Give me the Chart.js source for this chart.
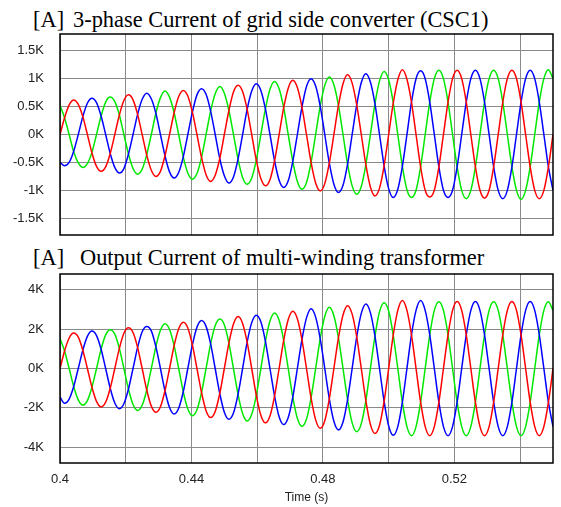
<!DOCTYPE html>
<html>
<head>
<meta charset="utf-8">
<script src="https://cdn.jsdelivr.net/npm/chart.js@4"></script>
<style>
  body { margin: 0; background: #fff; width: 561px; height: 507px; position: relative; overflow: hidden; }
  .lbl { position: absolute; font-family: "Liberation Serif", "Times New Roman", serif; font-size: 22.4px; line-height: 22px; color: #000; white-space: nowrap; }
  canvas { position: absolute; left: 0; }
</style>
</head>
<body>
<div class="lbl" style="left:33px;top:9px">[A]</div>
<div class="lbl" style="left:73px;top:9px">3-phase Current of grid side converter (CSC1)</div>
<canvas id="gridChart" width="561" height="209" style="top:30px"></canvas>
<div class="lbl" style="left:33px;top:247px">[A]</div>
<div class="lbl" style="left:80px;top:247px">Output Current of multi-winding transformer</div>
<canvas id="trafoChart" width="561" height="237" style="top:270px"></canvas>

<script>
// time samples (s), every 30 deg of a 60 Hz cycle
const time = [
  0.4, 0.40139, 0.40278, 0.40417, 0.40556, 0.40694, 0.40833, 0.40972, 0.41111, 0.4125, 0.41389, 0.41528,
  0.41667, 0.41806, 0.41944, 0.42083, 0.42222, 0.42361, 0.425, 0.42639, 0.42778, 0.42917, 0.43056, 0.43194,
  0.43333, 0.43472, 0.43611, 0.4375, 0.43889, 0.44028, 0.44167, 0.44306, 0.44444, 0.44583, 0.44722, 0.44861,
  0.45, 0.45139, 0.45278, 0.45417, 0.45556, 0.45694, 0.45833, 0.45972, 0.46111, 0.4625, 0.46389, 0.46528,
  0.46667, 0.46806, 0.46944, 0.47083, 0.47222, 0.47361, 0.475, 0.47639, 0.47778, 0.47917, 0.48056, 0.48194,
  0.48333, 0.48472, 0.48611, 0.4875, 0.48889, 0.49028, 0.49167, 0.49306, 0.49444, 0.49583, 0.49722, 0.49861,
  0.5, 0.50139, 0.50278, 0.50417, 0.50556, 0.50694, 0.50833, 0.50972, 0.51111, 0.5125, 0.51389, 0.51528,
  0.51667, 0.51806, 0.51944, 0.52083, 0.52222, 0.52361, 0.525, 0.52639, 0.52778, 0.52917, 0.53056, 0.53194,
  0.53333, 0.53472, 0.53611, 0.5375, 0.53889, 0.54028, 0.54167, 0.54306, 0.54444, 0.54583, 0.54722, 0.54861,
  0.55
];

// grid side converter currents (kA)
const cscRed = [
  0, .30, .53, .62, .54, .32, 0, -.33, -.57, -.66, -.58, -.34,
  0, .35, .61, .71, .62, .36, 0, -.37, -.64, -.75, -.66, -.38,
  0, .39, .68, .79, .69, .40, 0, -.41, -.72, -.84, -.73, -.43,
  0, .43, .76, .88, .77, .45, 0, -.46, -.79, -.92, -.81, -.47,
  0, .48, .83, .97, .84, .49, 0, -.50, -.87, -1.01, -.88, -.51,
  0, .52, .91, 1.07, .92, .53, 0, -.54, -.94, -1.10, -.96, -.56,
  0, .56, .98, 1.16, .99, .58, 0, -.58, -1.00, -1.12, -1.00, -.58,
  0, .58, 1.00, 1.15, 1.00, .58, 0, -.58, -1.00, -1.14, -1.00, -.58,
  0, .58, 1.00, 1.15, 1.00, .58, 0, -.58, -1.00, -1.15, -1.00, -.58,
  0
];
const cscBlue = [
  -.50, -.56, -.50, -.30, 0, .32, .56, .65, .57, .33, 0, -.34,
  -.59, -.69, -.61, -.35, 0, .36, .63, .74, .64, .38, 0, -.38,
  -.67, -.78, -.68, -.40, 0, .40, .71, .82, .72, .42, 0, -.43,
  -.74, -.87, -.76, -.44, 0, .45, .78, .91, .79, .46, 0, -.47,
  -.82, -.95, -.83, -.48, 0, .49, .86, 1.00, .87, .51, 0, -.51,
  -.89, -1.04, -.91, -.53, 0, .53, .93, 1.09, .94, .55, 0, -.56,
  -.97, -1.13, -.98, -.57, 0, .58, 1.00, 1.14, 1.00, .58, 0, -.58,
  -1.00, -1.13, -1.00, -.58, 0, .58, 1.00, 1.15, 1.00, .58, 0, -.58,
  -1.00, -1.15, -1.00, -.58, 0, .58, 1.00, 1.15, 1.00, .58, 0, -.58,
  -1.00
];
const cscGreen = [
  .52, .30, 0, -.31, -.51, -.59, -.52, -.32, 0, .33, .58, .67,
  .59, .35, 0, -.35, -.61, -.71, -.62, -.36, 0, .38, .66, .78,
  .67, .39, 0, -.40, -.69, -.80, -.70, -.41, 0, .42, .73, .86,
  .74, .43, 0, -.44, -.77, -.89, -.78, -.46, 0, .46, .81, .95,
  .82, .48, 0, -.48, -.84, -.98, -.86, -.50, 0, .51, .88, 1.03,
  .89, .52, 0, -.53, -.92, -1.07, -.93, -.54, 0, .55, .96, 1.13,
  .98, .57, 0, -.57, -.99, -1.13, -1.00, -.58, 0, .58, 1.00, 1.15,
  1.00, .58, 0, -.58, -1.00, -1.15, -1.00, -.58, 0, .58, 1.00, 1.15,
  1.00, .58, 0, -.58, -1.00, -1.16, -1.00, -.58, 0, .58, 1.00, 1.16,
  1.00
];

// multi-winding transformer output currents (kA)
const trafoRed = [
  0, .89, 1.55, 1.80, 1.59, .93, 0, -.95, -1.67, -1.95, -1.71, -1.00,
  0, 1.02, 1.79, 2.07, 1.83, 1.07, 0, -1.09, -1.91, -2.22, -1.94, -1.13,
  0, 1.16, 2.02, 2.35, 2.06, 1.20, 0, -1.22, -2.14, -2.49, -2.18, -1.27,
  0, 1.29, 2.26, 2.64, 2.29, 1.34, 0, -1.36, -2.37, -2.76, -2.41, -1.40,
  0, 1.43, 2.49, 2.91, 2.53, 1.47, 0, -1.49, -2.61, -3.03, -2.65, -1.54,
  0, 1.56, 2.72, 3.19, 2.76, 1.61, 0, -1.63, -2.84, -3.30, -2.88, -1.67,
  0, 1.70, 2.95, 3.45, 2.95, 1.71, 0, -1.71, -2.95, -3.41, -2.95, -1.71,
  0, 1.71, 2.95, 3.40, 2.95, 1.71, 0, -1.71, -2.95, -3.41, -2.95, -1.71,
  0, 1.71, 2.95, 3.40, 2.95, 1.71, 0, -1.71, -2.95, -3.41, -2.95, -1.71,
  0
];
const trafoBlue = [
  -1.45, -1.76, -1.55, -.91, 0, .93, 1.63, 1.90, 1.67, .98, 0, -1.00,
  -1.75, -2.04, -1.79, -1.04, 0, 1.07, 1.87, 2.13, 1.91, 1.11, 0, -1.13,
  -1.98, -2.31, -2.02, -1.18, 0, 1.20, 2.10, 2.44, 2.14, 1.25, 0, -1.27,
  -2.22, -2.58, -2.26, -1.31, 0, 1.34, 2.33, 2.71, 2.37, 1.38, 0, -1.40,
  -2.45, -2.85, -2.49, -1.45, 0, 1.47, 2.57, 3.03, 2.61, 1.52, 0, -1.54,
  -2.68, -3.12, -2.72, -1.58, 0, 1.61, 2.80, 3.28, 2.84, 1.65, 0, -1.67,
  -2.92, -3.39, -2.95, -1.71, 0, 1.71, 2.95, 3.45, 2.95, 1.71, 0, -1.71,
  -2.95, -3.41, -2.95, -1.71, 0, 1.71, 2.95, 3.40, 2.95, 1.71, 0, -1.71,
  -2.95, -3.41, -2.95, -1.71, 0, 1.71, 2.95, 3.40, 2.95, 1.71, 0, -1.71,
  -2.95
];
const trafoGreen = [
  1.52, .89, 0, -.91, -1.59, -1.86, -1.63, -.95, 0, .98, 1.71, 1.97,
  1.75, 1.02, 0, -1.04, -1.83, -2.13, -1.87, -1.09, 0, 1.11, 1.94, 2.27,
  1.98, 1.16, 0, -1.18, -2.06, -2.40, -2.10, -1.22, 0, 1.25, 2.18, 2.52,
  2.22, 1.29, 0, -1.31, -2.29, -2.67, -2.33, -1.36, 0, 1.38, 2.41, 2.82,
  2.45, 1.43, 0, -1.45, -2.53, -2.94, -2.57, -1.49, 0, 1.52, 2.65, 3.11,
  2.68, 1.56, 0, -1.58, -2.76, -3.21, -2.80, -1.63, 0, 1.65, 2.88, 3.34,
  2.92, 1.70, 0, -1.71, -2.95, -3.41, -2.95, -1.71, 0, 1.71, 2.95, 3.39,
  2.95, 1.71, 0, -1.71, -2.95, -3.41, -2.95, -1.71, 0, 1.71, 2.95, 3.39,
  2.95, 1.71, 0, -1.71, -2.95, -3.41, -2.95, -1.71, 0, 1.71, 2.95, 3.39,
  2.95
];

const xGridTicks = [0.4, 0.42, 0.44, 0.46, 0.48, 0.5, 0.52, 0.54];
const xTickLabels = [0.4, 0.44, 0.48, 0.52];
const cscYTicks = [-1.5, -1, -0.5, 0, 0.5, 1, 1.5];
const trafoYTicks = [-4, -2, 0, 2, 4];

const phaseColors = ["#ff0000", "#0000ff", "#00e800"];

// draws the black frame round the plot area
const frame = {
  id: "frame",
  afterDraw(chart) {
    const a = chart.chartArea;
    const ctx = chart.ctx;
    ctx.save();
    ctx.strokeStyle = "#000";
    ctx.lineWidth = 1.5;
    ctx.strokeRect(a.left, a.top, a.right - a.left, a.bottom - a.top);
    ctx.restore();
  }
};

function makeChart(id, series, yTicks, yLim, showX) {
  const ctx = document.getElementById(id).getContext("2d");
  return new Chart(ctx, {
    type: "line",
    data: {
      datasets: series.map((vals, i) => ({
        data: time.map((t, k) => ({ x: t, y: vals[k] })),
        borderColor: phaseColors[i],
        borderWidth: 1.5,
        pointRadius: 0,
        fill: false,
        cubicInterpolationMode: "monotone"
      }))
    },
    options: {
      responsive: false,
      animation: false,
      layout: { padding: { top: 4, right: 8, bottom: showX ? 0 : 4, left: 0 } },
      plugins: { legend: { display: false }, tooltip: { enabled: false } },
      scales: {
        x: {
          type: "linear",
          min: 0.4,
          max: 0.55,
          afterBuildTicks: (scale) => { scale.ticks = xGridTicks.map((v) => ({ value: v })); },
          afterFit: (scale) => {
            if (showX) scale.height = 44;
            scale.paddingRight = 0;
          },
          border: { display: false },
          grid: { color: "#8a8a8a", borderDash: [1, 1], drawTicks: false },
          ticks: {
            display: showX,
            padding: 9,
            maxRotation: 0,
            autoSkip: false,
            color: "#222",
            font: { family: "'Liberation Sans', Arial, sans-serif", size: 13 },
            callback: (v) => (xTickLabels.includes(v) ? String(v) : "")
          },
          title: {
            display: showX,
            text: "Time (s)",
            color: "#222",
            font: { family: "'Liberation Sans', Arial, sans-serif", size: 12 },
            padding: { top: 0, bottom: 2 }
          }
        },
        y: {
          min: -yLim,
          max: yLim,
          afterBuildTicks: (scale) => { scale.ticks = yTicks.map((v) => ({ value: v })); },
          afterFit: (scale) => {
            scale.width = 60;
            // the tick padding should only push labels sideways
            scale.paddingTop = 0;
            scale.paddingBottom = 0;
          },
          border: { display: false },
          grid: { color: "#8a8a8a", borderDash: [1, 1], drawTicks: false },
          ticks: {
            padding: 16,
            color: "#222",
            font: { family: "'Liberation Sans', Arial, sans-serif", size: 13 },
            callback: (v) => v + "K"
          }
        }
      }
    },
    plugins: [frame]
  });
}

makeChart("gridChart", [cscRed, cscBlue, cscGreen], cscYTicks, 1.8, false);
makeChart("trafoChart", [trafoRed, trafoBlue, trafoGreen], trafoYTicks, 4.8, true);
</script>
</body>
</html>
